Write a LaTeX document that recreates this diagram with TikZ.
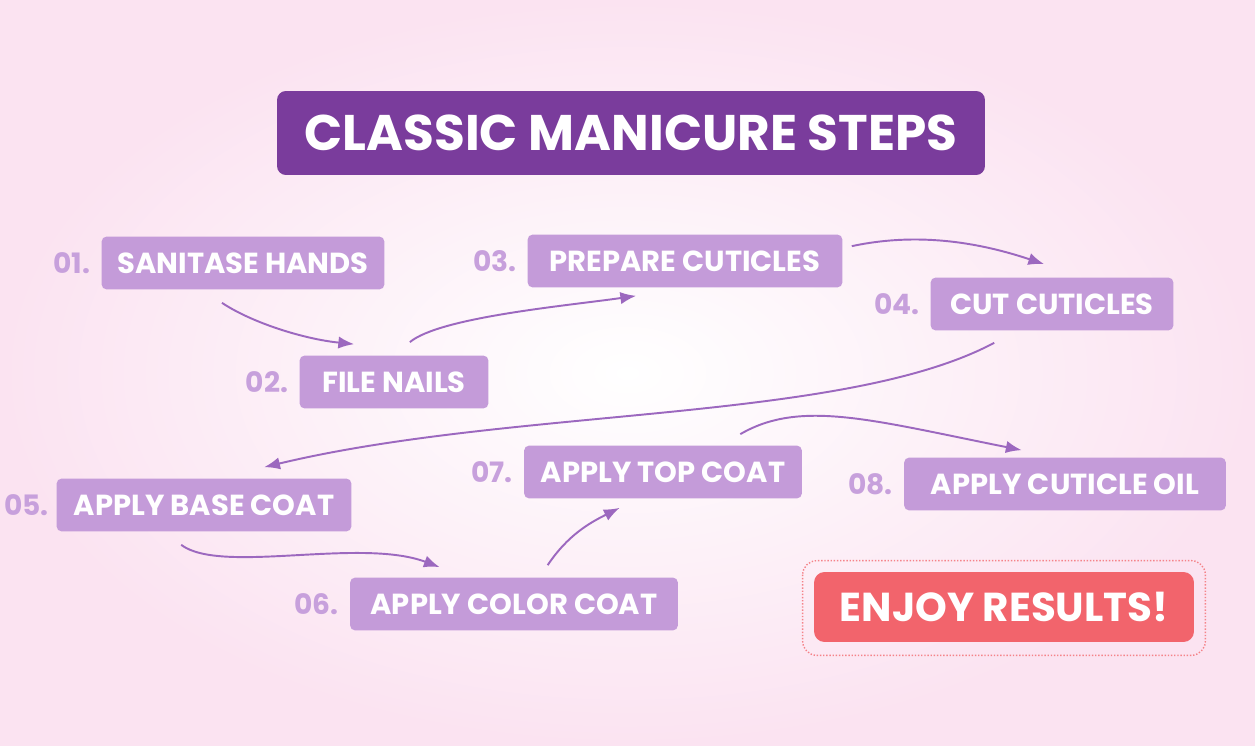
\documentclass[tikz,border=0pt]{standalone}
\usepackage{fontspec}
\setmainfont{Poppins}
\usetikzlibrary{arrows.meta, calc, positioning}
\definecolor{titlepurple}{HTML}{7A3C9C}
\definecolor{boxlilac}{HTML}{C49BD9}
\definecolor{numlilac}{HTML}{C7A0DC}
\definecolor{arrowpurple}{HTML}{9C68BF}
\definecolor{enjoyred}{HTML}{F2646C}
\definecolor{bgpink}{HTML}{FBE3F1}
\tikzset{
  stepbox/.style={rectangle, rounded corners=3pt, fill=boxlilac, text=white, font=\bfseries\fontsize{16.5}{19}\selectfont, minimum height=1.06cm, inner xsep=6pt},
  numlabel/.style={text=numlilac, font=\bfseries\fontsize{16}{19}\selectfont, anchor=east, inner sep=2pt},
  flow/.style={-{Latex[length=9pt,width=7pt]}, line width=1.1pt, draw=arrowpurple}
}
\begin{document}
\begin{tikzpicture}[x=0.02cm, y=-0.02cm]
\shade[inner color=white, outer color=bgpink] (0,0) rectangle (1255,746);
\useasboundingbox (0,0) rectangle (1255,746);

% Title
\node (title) [rectangle, rounded corners=5pt, fill=titlepurple, text=white, minimum width=14.16cm, minimum height=1.68cm, font=\bfseries\fontsize{28.5}{33}\selectfont] at (631,133) {CLASSIC MANICURE STEPS};

% Steps
\node (s01) [stepbox, minimum width=5.66cm] at (243,263) {SANITASE HANDS};
\node (s02) [stepbox, minimum width=3.78cm] at (394,382) {FILE NAILS};
\node (s03) [stepbox, minimum width=6.3cm] at (685,261) {PREPARE CUTICLES};
\node (s04) [stepbox, minimum width=4.86cm] at (1052,304) {CUT CUTICLES};
\node (s05) [stepbox, minimum width=5.9cm] at (204,505) {APPLY BASE COAT};
\node (s06) [stepbox, minimum width=6.56cm] at (514,604) {APPLY COLOR COAT};
\node (s07) [stepbox, minimum width=5.56cm] at (663,472) {APPLY TOP COAT};
\node (s08) [stepbox, minimum width=6.44cm] at (1065,484) {APPLY CUTICLE OIL};

% Numbers
\node [numlabel, left=4pt of s01] {01.};
\node [numlabel, left=4pt of s02] {02.};
\node [numlabel, left=4pt of s03] {03.};
\node [numlabel, left=4pt of s04] {04.};
\node [numlabel, left=2pt of s05] {05.};
\node [numlabel, left=4pt of s06] {06.};
\node [numlabel, left=4pt of s07] {07.};
\node [numlabel, left=4pt of s08] {08.};

% Finish
\node (enjoy) [rectangle, rounded corners=6pt, fill=enjoyred, text=white, minimum width=7.6cm, minimum height=1.4cm, font=\bfseries\fontsize{23}{27}\selectfont] at (1004,607) {ENJOY RESULTS!};
\draw[enjoyred!80, densely dotted, thick, rounded corners=8pt] ($(enjoy.north west)+(-11,-11)$) rectangle ($(enjoy.south east)+(11,13)$);

% Arrows
\draw[flow] ($(s01.south)+(-21,13)$) .. controls +(30,20) and +(-50,-5) .. ($(s02.north west)+(55,-11)$);
\draw[flow] ($(s02.north east)+(-79,-13)$) .. controls +(30,-25) and +(-70,10) .. ($(s03.south west)+(109,8)$);
\draw[flow] ($(s03.north east)+(9,12)$) .. controls +(70,-15) and +(-60,-20) .. ($(s04.north west)+(114,-13)$);
\draw[flow] ($(s04.south west)+(64,12)$) .. controls +(-150,80) and +(250,-60) .. ($(s05.north west)+(208,-11)$);
\draw[flow] ($(s05.south west)+(125,13)$) .. controls +(40,30) and +(-80,-30) .. ($(s06.north west)+(90,-10)$);
\draw[flow] ($(s06.north west)+(198,-12)$) .. controls +(20,-30) and +(-30,15) .. ($(s07.south west)+(96,9)$);
\draw[flow] ($(s07.north east)+(-62,-11)$) .. controls +(60,-35) and +(-150,-30) .. ($(s08.north west)+(118,-7)$);
\end{tikzpicture}
\end{document}
